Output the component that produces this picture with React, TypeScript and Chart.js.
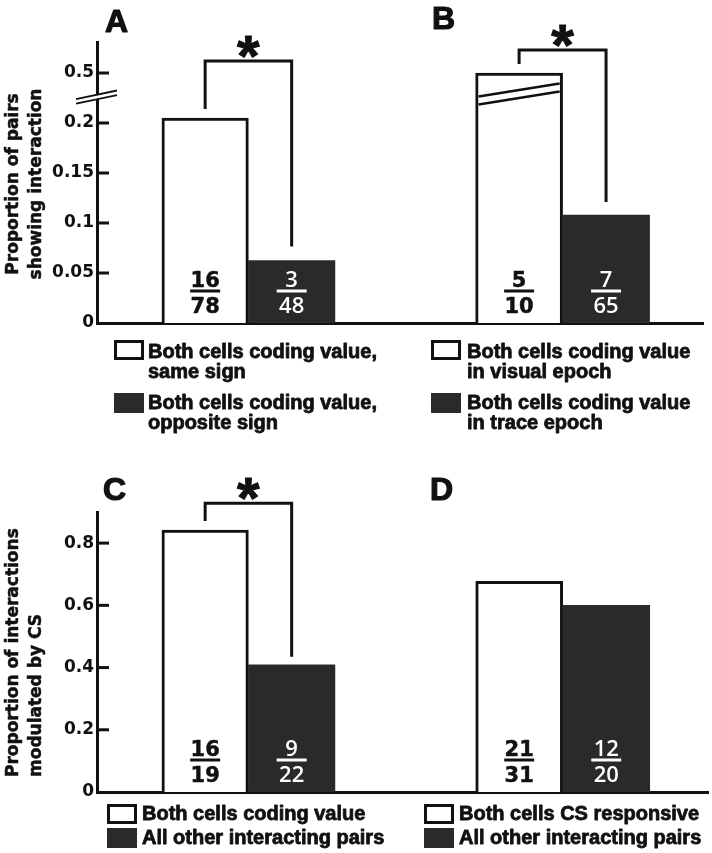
import React, { useEffect, useRef } from 'react';
import { Chart, registerables } from 'chart.js';

Chart.register(...registerables);

const INK = '#111111';
const DARK_FILL = '#2a2a2a';
const WHITE = '#ffffff';
const HEAVY_FONT = '"DejaVu Sans", sans-serif';
const TEXT_FONT = '"Liberation Sans", Arial, sans-serif';
const WHITE_DIGIT_FONT = '"Open Sans", sans-serif';

// ---------- data ----------
const CATEGORIES_A = ['Both cells coding value, same sign', 'Both cells coding value, opposite sign'];
const VALUES_A = [0.205, 0.0625];
const NUMERATORS_A = ['16', '3'];
const DENOMINATORS_A = ['78', '48'];
const LEGEND_A = [['Both cells coding value,', 'same sign'], ['Both cells coding value,', 'opposite sign']];

const CATEGORIES_B = ['Both cells coding value in visual epoch', 'Both cells coding value in trace epoch'];
const VALUES_B = [0.5, 0.108];
const NUMERATORS_B = ['5', '7'];
const DENOMINATORS_B = ['10', '65'];
const LEGEND_B = [['Both cells coding value', 'in visual epoch'], ['Both cells coding value', 'in trace epoch']];

const CATEGORIES_C = ['Both cells coding value', 'All other interacting pairs'];
const VALUES_C = [0.842, 0.409];
const NUMERATORS_C = ['16', '9'];
const DENOMINATORS_C = ['19', '22'];
const LEGEND_C = [['Both cells coding value'], ['All other interacting pairs']];

const CATEGORIES_D = ['Both cells CS responsive', 'All other interacting pairs'];
const VALUES_D = [0.677, 0.6];
const NUMERATORS_D = ['21', '12'];
const DENOMINATORS_D = ['31', '20'];
const LEGEND_D = [['Both cells CS responsive'], ['All other interacting pairs']];

const TICKS_TOP = [0, 0.05, 0.1, 0.15, 0.2, 0.5];
const TICK_LABELS_TOP = ['0', '0.05', '0.1', '0.15', '0.2', '0.5'];
const TICKS_BOTTOM = [0, 0.2, 0.4, 0.6, 0.8];
const TICK_LABELS_BOTTOM = ['0', '0.2', '0.4', '0.6', '0.8'];
const Y_TITLE_TOP = ['Proportion of pairs', 'showing interaction'];
const Y_TITLE_BOTTOM = ['Proportion of interactions', 'modulated by CS'];

// broken axis (top row): values above the break are compressed
const BREAK_VALUE = 0.22;
const BREAK_COMPRESSION = 0.03 / 0.28;
const brokenAxis = (v: number) => (v <= BREAK_VALUE ? v : BREAK_VALUE + (v - BREAK_VALUE) * BREAK_COMPRESSION);
const plainAxis = (v: number) => v;

type Panel = {
  letter: string;
  letterPos: [number, number];
  categories: string[];
  values: number[];
  numerators: string[];
  denominators: string[];
  legend: string[][];
  legendBoxX: number;
  legendTextX: number;
  legendBoxY: number[];
  legendBaselines: number[][];
  broken: boolean;
  ticks: number[] | null;
  tickLabels: string[] | null;
  yTitle: string[] | null;
  yTitleAnchor: number;
  yTitleAlign: 'center' | 'left';
  yMax: number;
  xRange: [number, number];
  barWidth: number;
  bracket: { top: number; gapLeft: number; gapRight: number } | null;
  frame: { left: number; top: number; width: number; height: number; padTop: number; padBottom: number; padRight: number; axisWidth: number };
};

const PANELS: Panel[] = [
  {
    letter: 'A', letterPos: [105, 32],
    categories: CATEGORIES_A, values: VALUES_A, numerators: NUMERATORS_A, denominators: DENOMINATORS_A,
    legend: LEGEND_A, legendBoxX: 114, legendTextX: 148, legendBoxY: [340, 393], legendBaselines: [[358, 378], [409, 429]],
    broken: true, ticks: TICKS_TOP, tickLabels: TICK_LABELS_TOP,
    yTitle: Y_TITLE_TOP, yTitleAnchor: 184, yTitleAlign: 'center',
    yMax: 0.281, xRange: [-0.25, 2.79], barWidth: 86.5,
    bracket: { top: 0.262, gapLeft: 9, gapRight: 14 },
    frame: { left: 0, top: 0, width: 430, height: 440, padTop: 42, padBottom: 117, padRight: 70, axisWidth: 97 },
  },
  {
    letter: 'B', letterPos: [432, 29],
    categories: CATEGORIES_B, values: VALUES_B, numerators: NUMERATORS_B, denominators: DENOMINATORS_B,
    legend: LEGEND_B, legendBoxX: 431, legendTextX: 467, legendBoxY: [340, 393], legendBaselines: [[358, 378], [409, 429]],
    broken: true, ticks: null, tickLabels: null,
    yTitle: null, yTitleAnchor: 0, yTitleAlign: 'center',
    yMax: 0.281, xRange: [-0.83, 3.115], barWidth: 87,
    bracket: { top: 0.273, gapLeft: 9, gapRight: 13 },
    frame: { left: 360, top: 0, width: 352, height: 440, padTop: 42, padBottom: 117, padRight: 9, axisWidth: 0 },
  },
  {
    letter: 'C', letterPos: [103, 500],
    categories: CATEGORIES_C, values: VALUES_C, numerators: NUMERATORS_C, denominators: DENOMINATORS_C,
    legend: LEGEND_C, legendBoxX: 107, legendTextX: 142, legendBoxY: [804, 828], legendBaselines: [[820], [844]],
    broken: false, ticks: TICKS_BOTTOM, tickLabels: TICK_LABELS_BOTTOM,
    yTitle: Y_TITLE_BOTTOM, yTitleAnchor: 777, yTitleAlign: 'left',
    yMax: 0.9, xRange: [-0.25, 2.79], barWidth: 86.5,
    bracket: { top: 0.928, gapLeft: 9, gapRight: 8 },
    frame: { left: 0, top: 440, width: 430, height: 413, padTop: 72, padBottom: 61, padRight: 70, axisWidth: 97 },
  },
  {
    letter: 'D', letterPos: [430, 500],
    categories: CATEGORIES_D, values: VALUES_D, numerators: NUMERATORS_D, denominators: DENOMINATORS_D,
    legend: LEGEND_D, legendBoxX: 424, legendTextX: 459, legendBoxY: [804, 828], legendBaselines: [[820], [844]],
    broken: false, ticks: null, tickLabels: null,
    yTitle: null, yTitleAnchor: 0, yTitleAlign: 'center',
    yMax: 0.9, xRange: [-0.83, 3.17], barWidth: 87,
    bracket: null,
    frame: { left: 360, top: 440, width: 352, height: 413, padTop: 72, padBottom: 61, padRight: 4, axisWidth: 0 },
  },
];

function line(ctx: CanvasRenderingContext2D, x1: number, y1: number, x2: number, y2: number) {
  ctx.beginPath();
  ctx.moveTo(x1, y1);
  ctx.lineTo(x2, y2);
  ctx.stroke();
}

// fill text with a thin same-colour outline to imitate the heavy typeface of the original
function heavyText(ctx: CanvasRenderingContext2D, text: string, x: number, y: number, color: string, weight: number) {
  ctx.fillStyle = color;
  ctx.fillText(text, x, y);
  if (weight > 0) {
    ctx.strokeStyle = color;
    ctx.lineWidth = weight;
    ctx.lineJoin = 'round';
    ctx.strokeText(text, x, y);
  }
}

function makeDecorPlugin(p: Panel) {
  const toAxis = p.broken ? brokenAxis : plainAxis;
  return {
    id: 'decor' + p.letter,
    afterDraw(chart: any) {
      const ctx: CanvasRenderingContext2D = chart.ctx;
      const area = chart.chartArea;
      const ys = chart.scales.y;
      const ox = p.frame.left;
      const oy = p.frame.top;
      const bars = chart.getDatasetMeta(0).data.map((b: any) => b.getProps(['x', 'y', 'width', 'base'], true));
      ctx.save();
      ctx.lineCap = 'butt';

      // inward tick marks on the y axis
      if (p.ticks) {
        ctx.strokeStyle = INK;
        ctx.lineWidth = 3;
        for (const t of p.ticks) {
          if (t === 0) continue;
          const y = ys.getPixelForValue(toAxis(t));
          line(ctx, area.left, y, area.left + 12, y);
        }
      }

      // axis break marks
      if (p.broken && p.ticks) {
        const cx = area.left;
        const cy = ys.getPixelForValue(0.226);
        const slope = -0.21;
        const x1 = cx - 21, x2 = cx + 20;
        const half = 2.3;
        ctx.fillStyle = WHITE;
        ctx.beginPath();
        ctx.moveTo(x1, cy + (x1 - cx) * slope - half);
        ctx.lineTo(x2, cy + (x2 - cx) * slope - half);
        ctx.lineTo(x2, cy + (x2 - cx) * slope + half);
        ctx.lineTo(x1, cy + (x1 - cx) * slope + half);
        ctx.closePath();
        ctx.fill();
        ctx.strokeStyle = INK;
        ctx.lineWidth = 1.8;
        line(ctx, x1, cy + (x1 - cx) * slope - half, x2, cy + (x2 - cx) * slope - half);
        line(ctx, x1, cy + (x1 - cx) * slope + half, x2, cy + (x2 - cx) * slope + half);
      }

      // broken bar marks
      if (p.broken) {
        p.values.forEach((v, i) => {
          if (v <= BREAK_VALUE) return;
          const b = bars[i];
          const xl = b.x - b.width / 2 + 3;
          const xr = b.x + b.width / 2 - 3;
          const cy = ys.getPixelForValue(0.229);
          const slope = -0.16;
          ctx.strokeStyle = INK;
          ctx.lineWidth = 2.5;
          [-4, 4].forEach((d) => {
            line(ctx, xl, cy + d + (xl - b.x) * slope, xr, cy + d + (xr - b.x) * slope);
          });
        });
      }

      // fractions inside bars
      p.values.forEach((_, i) => {
        const b = bars[i];
        const onDark = i === 1;
        const color = onDark ? WHITE : INK;
        ctx.font = onDark ? `600 22px ${WHITE_DIGIT_FONT}` : `bold 21px ${HEAVY_FONT}`;
        ctx.textAlign = 'center';
        ctx.textBaseline = 'alphabetic';
        heavyText(ctx, p.numerators[i], b.x, area.bottom - 36, color, onDark ? 0 : 0.5);
        heavyText(ctx, p.denominators[i], b.x, area.bottom - 10, color, onDark ? 0 : 0.5);
        ctx.strokeStyle = color;
        ctx.lineWidth = 3;
        line(ctx, b.x - 15, area.bottom - 32, b.x + 15, area.bottom - 32);
      });

      // significance bracket
      if (p.bracket) {
        const xl = bars[0].x;
        const xr = bars[1].x;
        const yt = ys.getPixelForValue(p.bracket.top);
        ctx.strokeStyle = INK;
        ctx.lineWidth = 3;
        ctx.lineJoin = 'miter';
        ctx.beginPath();
        ctx.moveTo(xl, bars[0].y - p.bracket.gapLeft);
        ctx.lineTo(xl, yt);
        ctx.lineTo(xr, yt);
        ctx.lineTo(xr, bars[1].y - p.bracket.gapRight);
        ctx.stroke();
        ctx.font = `bold 58px ${TEXT_FONT}`;
        ctx.textAlign = 'center';
        ctx.textBaseline = 'alphabetic';
        heavyText(ctx, '*', (xl + xr) / 2, yt - 16 + 31, INK, 1);
      }

      // panel letter
      ctx.font = `bold 32px ${TEXT_FONT}`;
      ctx.textAlign = 'left';
      ctx.textBaseline = 'alphabetic';
      heavyText(ctx, p.letter, p.letterPos[0] - ox, p.letterPos[1] - oy, INK, 1.2);

      // legend
      p.legend.forEach((lines, i) => {
        const bx = p.legendBoxX - ox;
        const by = p.legendBoxY[i] - oy;
        if (i === 0) {
          ctx.strokeStyle = INK;
          ctx.lineWidth = 3;
          ctx.lineJoin = 'miter';
          ctx.strokeRect(bx + 1.5, by + 1.5, 27, 17);
        } else {
          ctx.fillStyle = DARK_FILL;
          ctx.fillRect(bx, by, 30, 20);
        }
        ctx.font = `bold 20px ${TEXT_FONT}`;
        ctx.textAlign = 'left';
        lines.forEach((t, j) => {
          heavyText(ctx, t, p.legendTextX - ox, p.legendBaselines[i][j] - oy, INK, 0.8);
        });
      });

      // y-axis title
      if (p.yTitle) {
        ctx.font = `bold 17px ${HEAVY_FONT}`;
        ctx.textAlign = p.yTitleAlign;
        ctx.textBaseline = 'alphabetic';
        const baselinesX = [17.5, 40.5];
        p.yTitle.forEach((t, j) => {
          ctx.save();
          ctx.translate(baselinesX[j] - ox, p.yTitleAnchor - oy);
          ctx.rotate(-Math.PI / 2);
          heavyText(ctx, t, 0, 0, INK, 0.5);
          ctx.restore();
        });
      }
      ctx.restore();
    },
  };
}

function buildConfig(p: Panel): any {
  const toAxis = p.broken ? brokenAxis : plainAxis;
  const showY = !!p.ticks;
  return {
    type: 'bar',
    data: {
      labels: p.categories,
      datasets: [
        {
          label: p.letter,
          data: p.values.map((v, i) => ({ x: i + 1, y: toAxis(v) })),
          backgroundColor: [WHITE, DARK_FILL],
          borderColor: [INK, DARK_FILL],
          borderWidth: [3, 0],
          borderSkipped: 'start',
          barThickness: p.barWidth,
          categoryPercentage: 1,
          barPercentage: 1,
        },
      ],
    },
    options: {
      animation: false,
      responsive: false,
      events: [],
      layout: { padding: { top: p.frame.padTop, bottom: p.frame.padBottom, left: 0, right: p.frame.padRight } },
      plugins: { legend: { display: false }, tooltip: { enabled: false }, title: { display: false } },
      scales: {
        x: {
          type: 'linear',
          min: p.xRange[0],
          max: p.xRange[1],
          offset: false,
          display: true,
          ticks: { display: false },
          grid: { display: false, drawTicks: false },
          border: { display: true, color: INK, width: 3 },
          afterFit: (s: any) => { s.height = 0; },
        },
        y: {
          type: 'linear',
          min: 0,
          max: p.yMax,
          display: showY,
          afterBuildTicks: (s: any) => {
            if (p.ticks) s.ticks = p.ticks.map((t) => ({ value: toAxis(t) }));
          },
          ticks: {
            callback: (_v: any, idx: number) => (p.tickLabels ? p.tickLabels[idx] : ''),
            font: { family: HEAVY_FONT, size: 17, weight: 'bold' },
            color: INK,
            padding: 3,
            autoSkip: false,
          },
          grid: { display: false, drawTicks: false },
          border: { display: true, color: INK, width: 3 },
          afterFit: (s: any) => { s.width = p.frame.axisWidth; },
        },
      },
    },
    plugins: [makeDecorPlugin(p)],
  };
}

function PanelChart({ panel }: { panel: Panel }) {
  const ref = useRef<HTMLCanvasElement>(null);
  useEffect(() => {
    const canvas = ref.current;
    if (!canvas) return;
    const chart = new Chart(canvas, buildConfig(panel));
    return () => chart.destroy();
  }, [panel]);
  const f = panel.frame;
  return (
    <canvas
      ref={ref}
      width={f.width}
      height={f.height}
      style={{ position: 'absolute', left: f.left, top: f.top, width: f.width, height: f.height }}
    />
  );
}

export default function App() {
  useEffect(() => {
    document.body.style.margin = '0';
  }, []);
  return (
    <div style={{ position: 'relative', width: 712, height: 853, background: '#ffffff', overflow: 'hidden' }}>
      {PANELS.map((p) => (
        <PanelChart key={p.letter} panel={p} />
      ))}
    </div>
  );
}
